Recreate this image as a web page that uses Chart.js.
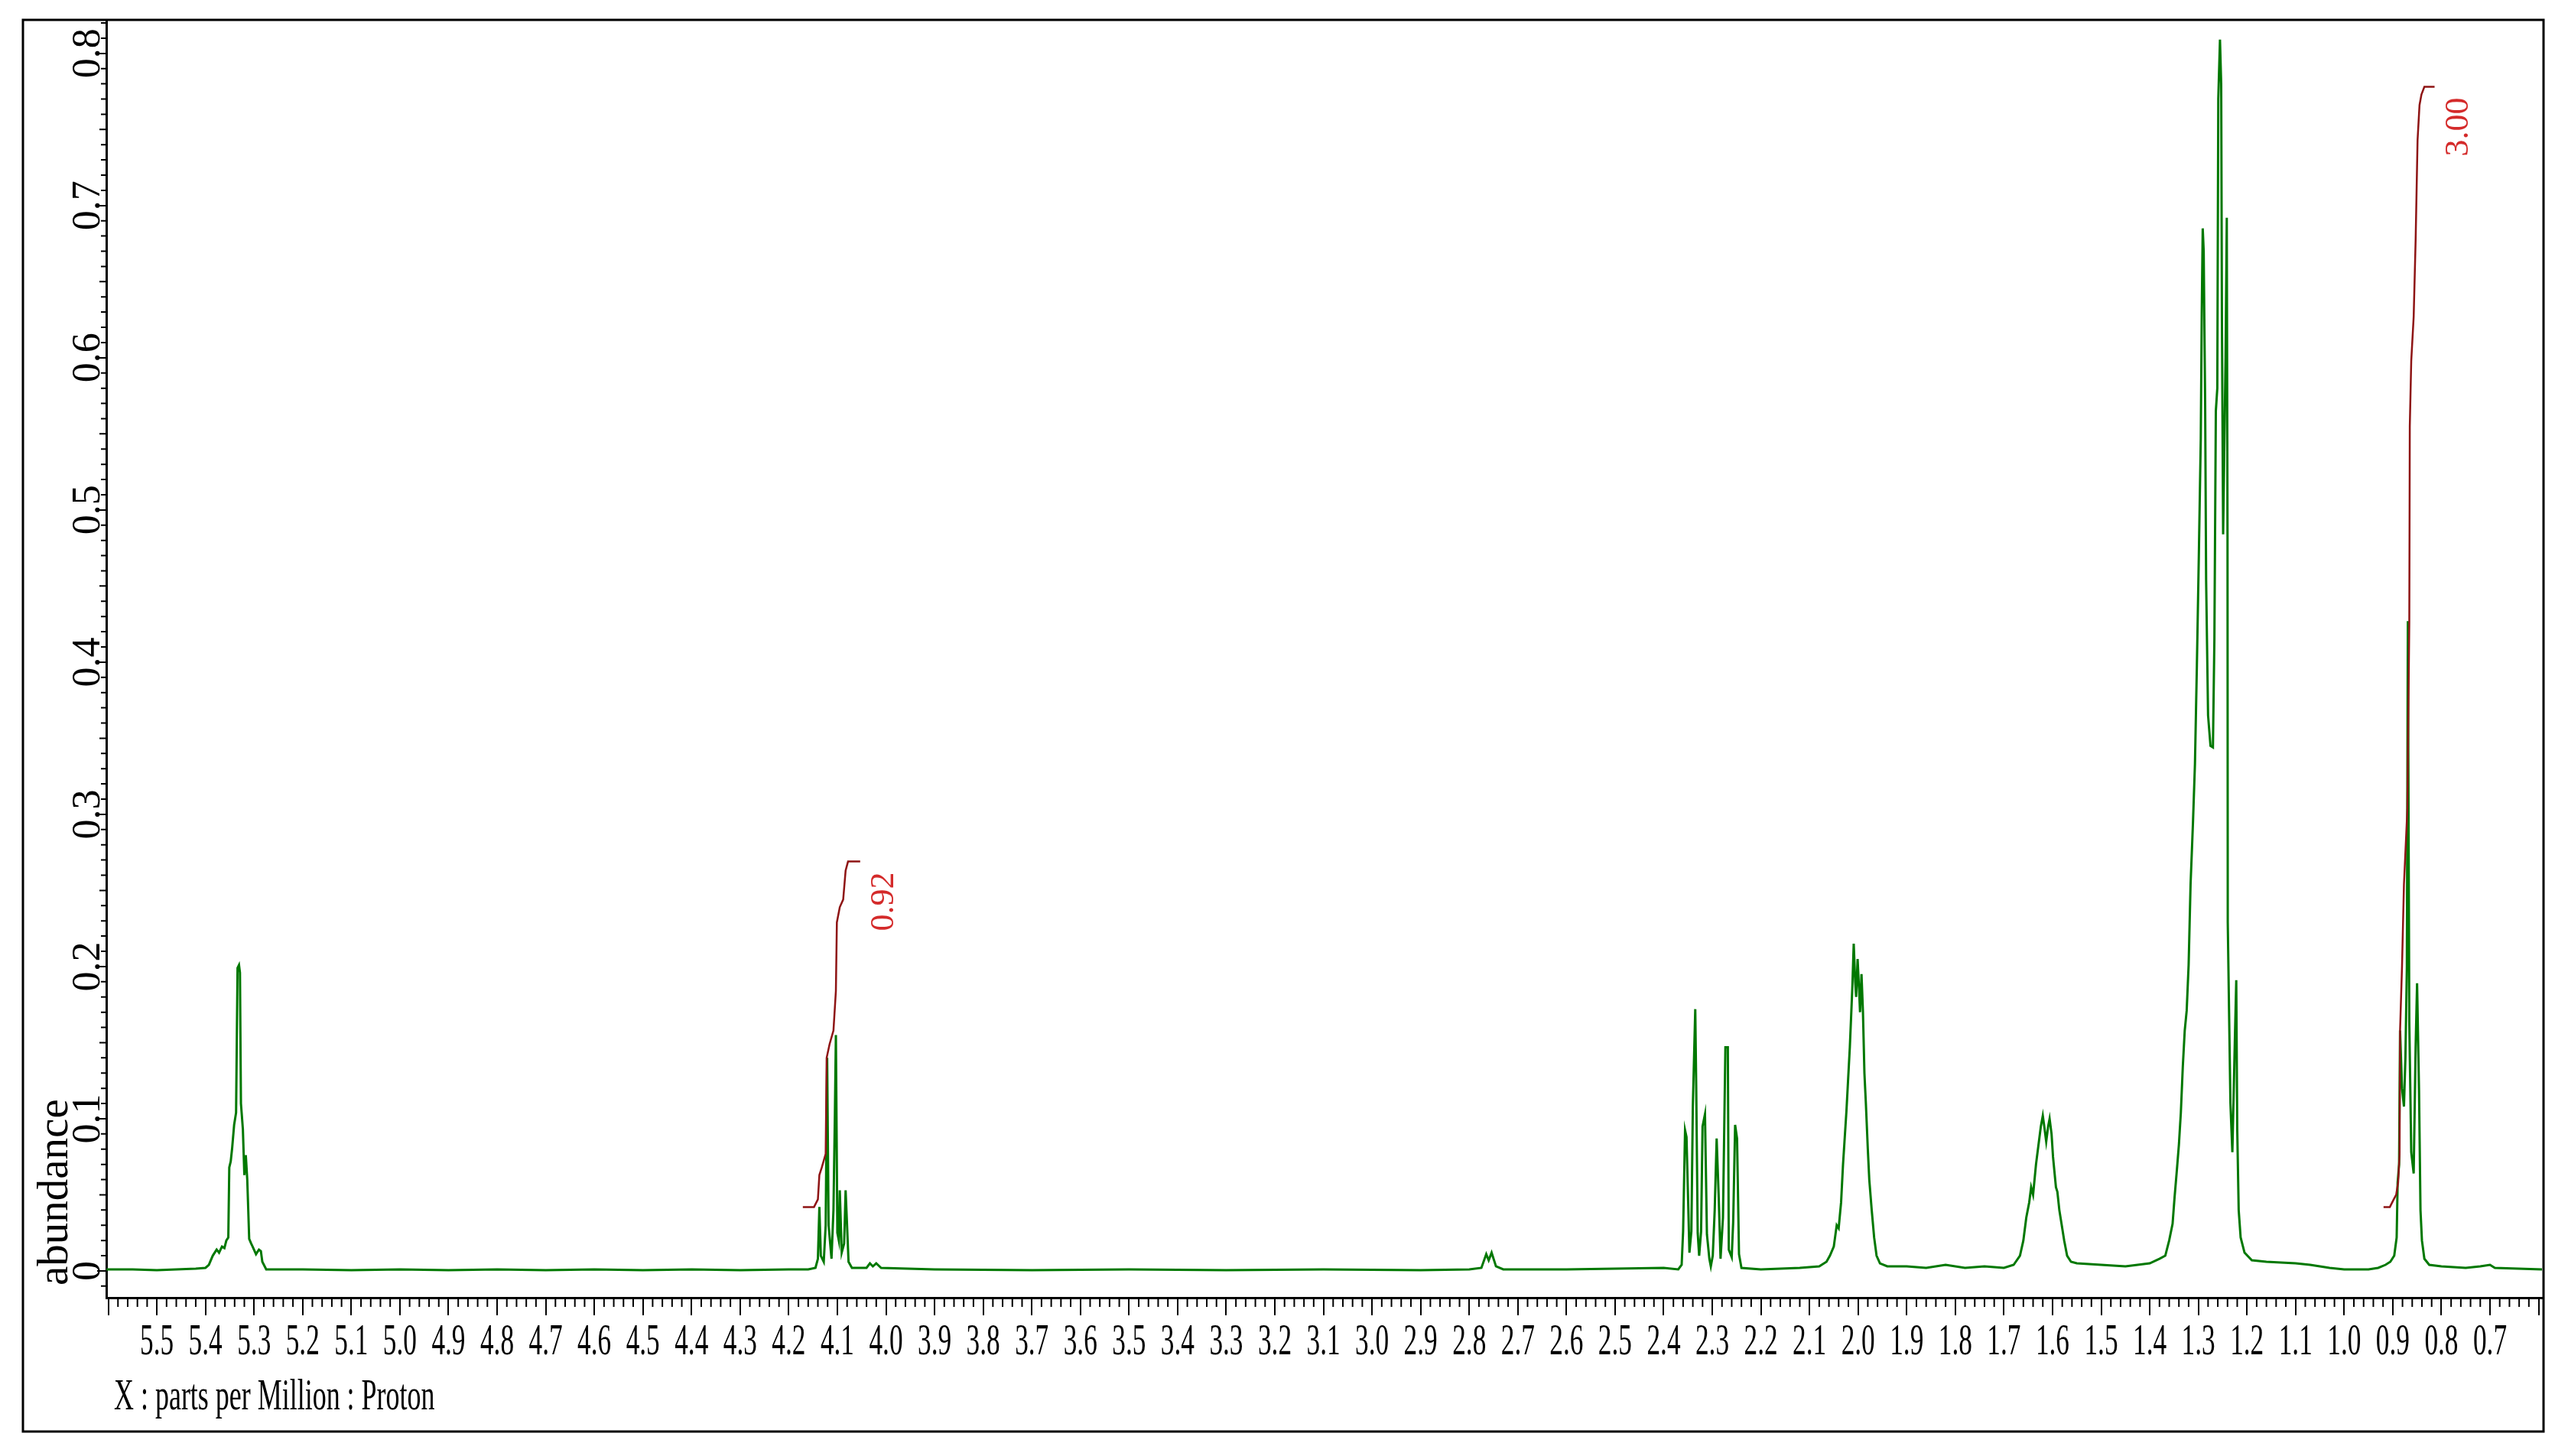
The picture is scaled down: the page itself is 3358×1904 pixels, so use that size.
<!DOCTYPE html>
<html><head><meta charset="utf-8">
<script src="https://cdn.jsdelivr.net/npm/chart.js@4.4.1/dist/chart.umd.min.js"></script>
<style>html,body{margin:0;padding:0;background:#fff;}canvas{display:block;}</style>
</head><body>
<canvas id="c" width="3358" height="1904"></canvas>
<script>
// ---- data ----
const spectrumPpm = [
5.604,5.55,5.50,5.46,5.42,5.40,5.393,5.385,5.377,5.372,5.366,5.361,5.357,5.353,5.351,5.348,5.345,5.341,5.337,5.334,5.331,5.329,5.327,5.323,5.320,5.317,5.314,5.310,5.306,5.303,5.296,5.290,5.286,5.283,5.275,
5.20,5.10,5.00,4.90,4.80,4.70,4.60,4.50,4.40,4.30,4.20,
4.160,4.145,4.140,4.137,4.134,4.128,4.124,4.121,4.118,4.112,4.108,4.105,4.103,4.100,4.097,4.095,4.091,4.086,4.083,4.080,4.077,4.070,
4.040,4.033,4.027,4.020,4.010,3.90,3.70,3.50,3.30,3.10,2.90,2.80,
2.775,2.765,2.760,2.754,2.745,2.730,2.60,2.50,2.40,
2.370,2.363,2.360,2.356,2.353,2.347,2.343,2.340,2.335,2.333,2.330,2.327,2.323,2.320,2.315,2.311,2.306,2.303,2.299,2.295,2.291,2.287,2.283,2.278,2.273,2.268,2.266,2.260,2.257,2.253,2.249,2.245,2.240,
2.20,2.12,2.08,2.065,2.058,2.050,2.044,2.040,2.035,2.031,2.024,2.017,2.012,2.009,2.006,2.004,2.001,1.998,1.996,1.993,1.990,1.987,1.984,1.980,1.977,1.972,1.967,1.962,1.955,
1.94,1.90,1.86,1.82,1.78,1.74,1.70,
1.68,1.667,1.660,1.654,1.648,1.644,1.640,1.634,1.628,1.624,1.620,1.617,1.613,1.609,1.606,1.602,1.599,1.596,1.593,1.590,1.586,1.580,1.576,1.570,1.562,
1.55,1.50,1.45,1.40,1.38,
1.368,1.360,1.353,1.349,1.344,1.340,1.336,1.332,1.328,1.324,1.320,1.316,1.311,1.307,1.303,1.299,1.295,1.293,1.291,1.289,1.286,1.284,1.280,1.275,1.270,1.267,1.264,1.261,1.259,1.2555,1.253,1.2515,1.249,1.244,1.2415,1.240,1.2395,1.234,1.230,1.225,1.222,1.220,1.217,1.213,1.205,
1.19,1.16,1.10,1.07,1.03,1.00,0.95,0.93,
0.915,0.905,0.897,0.892,0.890,0.887,0.885,0.881,0.877,0.874,0.871,0.869,0.866,0.862,0.857,0.853,0.850,0.846,0.843,0.840,0.835,0.825,
0.80,0.75,0.72,0.70,0.69,0.593
];
const spectrumAbundance = [
0.001,0.001,0.0005,0.001,0.0015,0.002,0.004,0.010,0.014,0.012,0.016,0.015,0.020,0.022,0.068,0.072,0.081,0.096,0.104,0.199,0.201,0.196,0.110,0.093,0.063,0.076,0.060,0.021,0.018,0.016,0.011,0.014,0.013,0.006,0.001,
0.001,0.0005,0.001,0.0005,0.001,0.0005,0.001,0.0005,0.001,0.0005,0.001,
0.001,0.002,0.008,0.042,0.010,0.006,0.030,0.140,0.030,0.008,0.040,0.104,0.155,0.025,0.020,0.053,0.012,0.018,0.053,0.030,0.006,0.002,
0.002,0.005,0.003,0.005,0.002,0.001,0.0005,0.001,0.0005,0.001,0.0005,0.001,
0.002,0.011,0.007,0.012,0.003,0.001,0.001,0.0015,0.002,
0.001,0.004,0.026,0.0925,0.088,0.012,0.026,0.108,0.172,0.120,0.025,0.010,0.026,0.095,0.103,0.024,0.008,0.003,0.010,0.040,0.087,0.051,0.008,0.035,0.147,0.147,0.014,0.009,0.032,0.096,0.087,0.011,0.002,
0.001,0.002,0.003,0.006,0.010,0.016,0.030,0.028,0.045,0.070,0.105,0.147,0.185,0.215,0.190,0.180,0.205,0.185,0.170,0.195,0.170,0.130,0.110,0.080,0.060,0.040,0.022,0.010,0.005,
0.003,0.003,0.002,0.004,0.002,0.003,0.002,
0.004,0.010,0.020,0.035,0.045,0.055,0.050,0.070,0.085,0.095,0.102,0.095,0.085,0.095,0.100,0.090,0.075,0.065,0.055,0.052,0.040,0.028,0.020,0.010,0.006,
0.005,0.004,0.003,0.005,0.008,
0.010,0.020,0.031,0.048,0.067,0.083,0.104,0.134,0.158,0.171,0.201,0.254,0.295,0.333,0.398,0.470,0.547,0.629,0.685,0.670,0.569,0.454,0.365,0.345,0.344,0.415,0.565,0.580,0.770,0.809,0.780,0.626,0.484,0.600,0.692,0.482,0.229,0.110,0.078,0.150,0.191,0.093,0.040,0.022,0.012,
0.007,0.006,0.005,0.004,0.002,0.001,0.001,0.002,
0.004,0.006,0.010,0.022,0.058,0.070,0.158,0.120,0.108,0.140,0.200,0.427,0.163,0.078,0.064,0.147,0.189,0.119,0.040,0.020,0.008,0.004,
0.003,0.002,0.003,0.004,0.002,0.001
];
const integral1Ppm   = [4.171,4.148,4.140,4.137,4.132,4.124,4.122,4.116,4.108,4.103,4.101,4.095,4.088,4.083,4.078,4.053];
const integral1Value = [0.042,0.042,0.047,0.063,0.068,0.077,0.140,0.149,0.158,0.184,0.229,0.239,0.244,0.263,0.269,0.269];
const integral2Ppm   = [0.919,0.906,0.898,0.893,0.889,0.886,0.885,0.881,0.877,0.870,0.866,0.865,0.862,0.857,0.853,0.849,0.845,0.841,0.835,0.814];
const integral2Value = [0.042,0.042,0.047,0.050,0.058,0.077,0.158,0.200,0.254,0.303,0.427,0.555,0.598,0.627,0.677,0.743,0.766,0.773,0.778,0.778];
const integralLabels = ['0.92', '3.00'];
const xMajorTicks = [5.6,5.5,5.4,5.3,5.2,5.1,5.0,4.9,4.8,4.7,4.6,4.5,4.4,4.3,4.2,4.1,4.0,3.9,3.8,3.7,3.6,3.5,3.4,3.3,3.2,3.1,3.0,2.9,2.8,2.7,2.6,2.5,2.4,2.3,2.2,2.1,2.0,1.9,1.8,1.7,1.6,1.5,1.4,1.3,1.2,1.1,1.0,0.9,0.8,0.7,0.6];
const xTickLabels = ['5.5','5.4','5.3','5.2','5.1','5.0','4.9','4.8','4.7','4.6','4.5','4.4','4.3','4.2','4.1','4.0','3.9','3.8','3.7','3.6','3.5','3.4','3.3','3.2','3.1','3.0','2.9','2.8','2.7','2.6','2.5','2.4','2.3','2.2','2.1','2.0','1.9','1.8','1.7','1.6','1.5','1.4','1.3','1.2','1.1','1.0','0.9','0.8','0.7'];
const yTickLabels = ['0','0.1','0.2','0.3','0.4','0.5','0.6','0.7','0.8'];
const xTitle = 'X : parts per Million : Proton';
const yTitle = 'abundance';

// ---- build ----
const toXY = (xs, ys) => xs.map((v, i) => ({x: v, y: ys[i]}));
const integrals = [
  {ppm: integral1Ppm, val: integral1Value, label: integralLabels[0]},
  {ppm: integral2Ppm, val: integral2Value, label: integralLabels[1]}
];
const SERIF = '"Liberation Serif", "Times New Roman", serif';

const decor = {
  id: 'decor',
  afterDraw(chart) {
    const {ctx, chartArea: ca, scales: {x, y}} = chart;
    ctx.save();
    // outer frame
    ctx.strokeStyle = '#000';
    ctx.lineWidth = 3;
    ctx.strokeRect(30, ca.top, ca.right + 2 - 30, 1872 - ca.top);
    // minor x ticks (0.02 ppm)
    ctx.lineWidth = 2;
    ctx.beginPath();
    for (let i = 30; i <= 280; i++) {
      if (i % 5 === 0) continue;
      const px = x.getPixelForValue(i / 50);
      ctx.moveTo(px, ca.bottom); ctx.lineTo(px, ca.bottom + 12);
    }
    ctx.stroke();
    // minor y ticks (0.01)
    ctx.beginPath();
    for (let i = -1; i <= 82; i++) {
      if (i % 10 === 0) continue;
      const py = y.getPixelForValue(i / 100);
      const len = (i % 5 === 0) ? 9 : 7;
      ctx.moveTo(ca.left, py); ctx.lineTo(ca.left - len, py);
    }
    ctx.stroke();
    // x tick labels (condensed serif)
    ctx.fillStyle = '#000';
    ctx.font = '56px ' + SERIF;
    ctx.textAlign = 'center';
    ctx.textBaseline = 'alphabetic';
    xTickLabels.forEach(lbl => {
      const px = x.getPixelForValue(parseFloat(lbl));
      ctx.save(); ctx.translate(px, ca.bottom + 74); ctx.scale(0.63, 1);
      ctx.fillText(lbl, 0, 0); ctx.restore();
    });
    // y tick labels (rotated)
    ctx.font = '52px ' + SERIF;
    yTickLabels.forEach(lbl => {
      const py = y.getPixelForValue(parseFloat(lbl));
      ctx.save(); ctx.translate(ca.left - 9, py); ctx.rotate(-Math.PI / 2);
      ctx.textAlign = 'center'; ctx.fillText(lbl, 0, 0); ctx.restore();
    });
    // y title
    ctx.font = '57px ' + SERIF;
    ctx.save(); ctx.translate(88, ca.bottom - 16); ctx.rotate(-Math.PI / 2);
    ctx.textAlign = 'left'; ctx.fillText(yTitle, 0, 0); ctx.restore();
    // x title
    ctx.font = '58px ' + SERIF;
    ctx.save(); ctx.translate(149, ca.bottom + 146); ctx.scale(0.62, 1);
    ctx.textAlign = 'left'; ctx.fillText(xTitle, 0, 0); ctx.restore();
    // integral labels
    ctx.font = '44px ' + SERIF;
    ctx.fillStyle = '#d42a2a';
    integrals.forEach(it => {
      const n = it.ppm.length - 1;
      const px = x.getPixelForValue(it.ppm[n]);
      const py = y.getPixelForValue(it.val[n]);
      ctx.save(); ctx.translate(px + 43, py + 14); ctx.rotate(-Math.PI / 2);
      ctx.textAlign = 'right'; ctx.fillText(it.label, 0, 0); ctx.restore();
    });
    ctx.restore();
  }
};

const datasets = integrals.map(it => ({
  data: toXY(it.ppm, it.val),
  showLine: true, borderColor: '#8e1414', borderWidth: 2.5,
  pointRadius: 0, tension: 0, order: 0
}));
datasets.push({
  data: toXY(spectrumPpm, spectrumAbundance),
  showLine: true, borderColor: '#007800', borderWidth: 3,
  pointRadius: 0, tension: 0, order: 1
});

new Chart(document.getElementById('c'), {
  type: 'scatter',
  data: {datasets},
  options: {
    responsive: false,
    devicePixelRatio: 1,
    animation: false,
    layout: {padding: {left: 0, right: 34, top: 26, bottom: 0}},
    plugins: {legend: {display: false}, tooltip: {enabled: false}},
    scales: {
      x: {
        type: 'linear', reverse: true, min: 0.593, max: 5.604, position: 'bottom',
        afterBuildTicks: s => { s.ticks = xMajorTicks.map(v => ({value: v})); },
        afterFit: s => { s.height = 207; },
        ticks: {display: false},
        grid: {display: true, drawOnChartArea: false, drawTicks: true, tickLength: 23, color: '#000', lineWidth: 2},
        border: {display: true, color: '#000', width: 3}
      },
      y: {
        type: 'linear', min: -0.0176, max: 0.822, position: 'left',
        afterBuildTicks: s => { s.ticks = yTickLabels.map(v => ({value: parseFloat(v)})); },
        afterFit: s => { s.width = 139; },
        ticks: {display: false},
        grid: {display: true, drawOnChartArea: false, drawTicks: true, tickLength: 12, color: '#000', lineWidth: 2},
        border: {display: true, color: '#000', width: 3}
      }
    }
  },
  plugins: [decor]
});
</script>
</body></html>
